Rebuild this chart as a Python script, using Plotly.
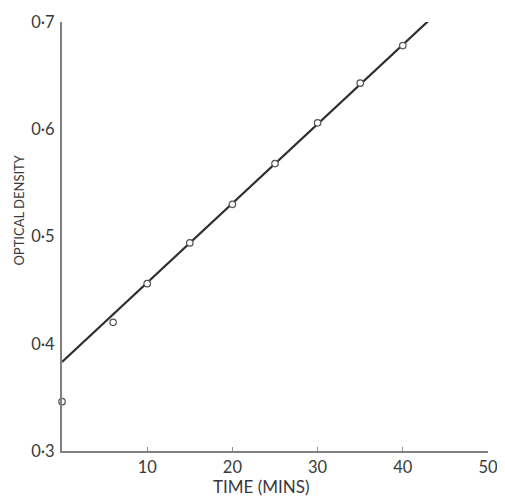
import plotly.graph_objects as go

# Data
time_min = [0, 6, 10, 15, 20, 25, 30, 35, 40]
optical_density = [0.346, 0.420, 0.456, 0.494, 0.530, 0.568, 0.606, 0.643, 0.678]

# Fitted straight line (end points)
fit_x = [0, 43]
fit_y = [0.383, 0.701]

x_ticks = [10, 20, 30, 40, 50]
x_ticklabels = ["10", "20", "30", "40", "50"]
y_ticks = [0.3, 0.4, 0.5, 0.6, 0.7]
y_ticklabels = ["0·3", "0·4", "0·5", "0·6", "0·7"]

FONT = "Lato, Open Sans, sans-serif"
TXT = "#3a3a3a"

fig = go.Figure()
fig.add_trace(go.Scatter(
    x=fit_x, y=fit_y, mode="lines",
    line=dict(color="#2e2e2e", width=2.2),
    cliponaxis=False, showlegend=False, hoverinfo="skip",
))
fig.add_trace(go.Scatter(
    x=time_min, y=optical_density, mode="markers",
    marker=dict(symbol="circle", size=6.5, color="white",
                line=dict(color="#555555", width=1.2)),
    cliponaxis=False, showlegend=False,
))

# page body has an 8px default margin, so the figure is sized to fit
fig.update_layout(
    width=497, height=489,
    margin=dict(l=54, r=17, t=14, b=46, autoexpand=False),
    paper_bgcolor="white", plot_bgcolor="white",
    font=dict(family=FONT, size=15, color=TXT),
    xaxis=dict(
        range=[0, 50], showgrid=False, zeroline=False,
        showline=True, linecolor="#808080", linewidth=2,
        tickmode="array", tickvals=x_ticks, ticktext=x_ticklabels,
        ticks="inside", ticklen=4, tickwidth=1, tickcolor="#909090",
        tickfont=dict(family=FONT, size=16.5, color=TXT),
        automargin=False,
    ),
    yaxis=dict(
        range=[0.3, 0.7], showgrid=False, zeroline=False,
        showline=True, linecolor="#808080", linewidth=2,
        tickmode="array", tickvals=y_ticks, ticktext=y_ticklabels,
        ticks="", ticklabelstandoff=2,
        tickfont=dict(family=FONT, size=16.5, color=TXT),
        automargin=False,
    ),
    annotations=[
        dict(text="TIME (MINS)", xref="paper", yref="paper",
             x=(261 - 62) / 426, y=-0.082, xanchor="center", yanchor="middle",
             showarrow=False, font=dict(family=FONT, size=17, color=TXT)),
        dict(text="OPTICAL DENSITY", xref="paper", yref="paper",
             x=-0.102, y=(451 - 210) / 429, xanchor="center", yanchor="middle",
             textangle=-90, showarrow=False,
             font=dict(family=FONT, size=13, color=TXT)),
    ],
)

fig.write_html("out.html")
